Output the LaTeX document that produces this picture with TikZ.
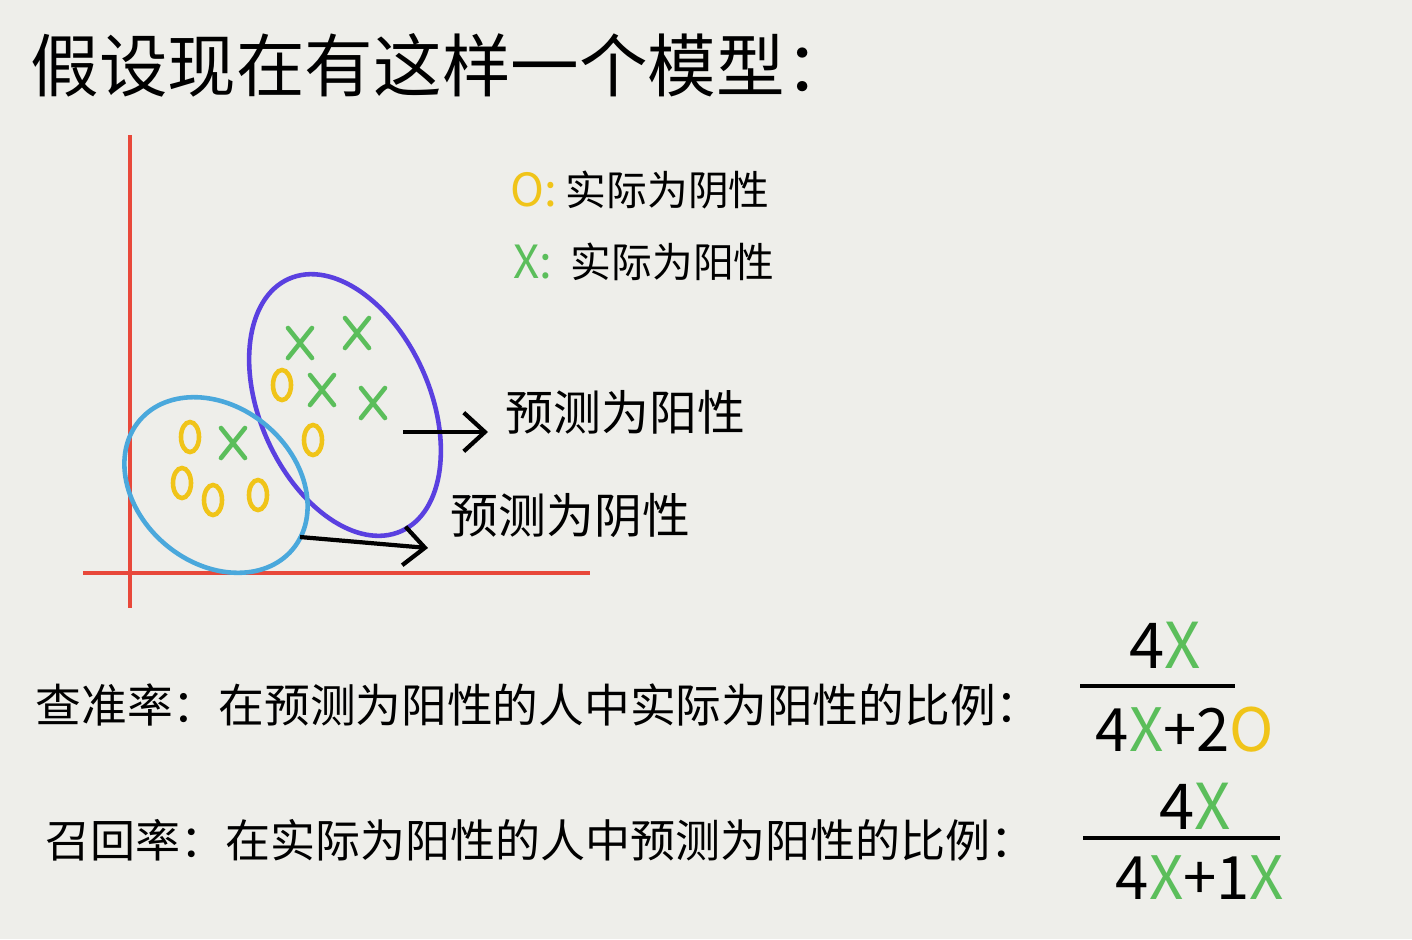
\documentclass[tikz,border=0pt]{standalone}
\usepackage{fontspec}
\setmainfont{Noto Sans CJK SC}
\usepackage{xcolor}
\usepackage{tikz}
\usetikzlibrary{arrows.meta,positioning,calc}

\definecolor{paperbg}{HTML}{EEEEEA}
\definecolor{axisred}{HTML}{E8483A}
\definecolor{ringblue}{HTML}{5A40E0}
\definecolor{ringcyan}{HTML}{4AA8DC}
\definecolor{markgreen}{HTML}{5BBE5B}
\definecolor{markyellow}{HTML}{F0C419}

\begin{document}
\begin{tikzpicture}[x=0.01cm, y=-0.01cm,
  every node/.style={inner sep=0pt},
  hand/.style={line width=1.3pt, line cap=round},
  pointer/.style={black, line width=1.2pt, -{Straight Barb[length=6pt,width=11pt]}}]

%% ── Paper (1412 x 939 px, 1px = 0.01cm) ──────────────────────────────────────
\fill[paperbg] (0,0) rectangle (1412,939);
\useasboundingbox (0,0) rectangle (1412,939);

%% ── Title ────────────────────────────────────────────────────────────────────
\node[anchor=west, font=\fontsize{19.5}{21}\selectfont] (title) at (30,65)
  {假设现在有这样一个模型：};

%% ── Axes ─────────────────────────────────────────────────────────────────────
\draw[axisred, line width=1.1pt] (130,135) -- (130,608);
\draw[axisred, line width=1.1pt] (83,573) -- (590,573);

%% ── Legend ───────────────────────────────────────────────────────────────────
\node[anchor=west, markyellow, font=\fontsize{13}{14}\selectfont] (legO) at (510,190) {O:};
\node[anchor=west, font=\fontsize{11.6}{13}\selectfont] (legOtxt) at (565,190) {实际为阴性};
\node[anchor=west, markgreen, font=\fontsize{13}{14}\selectfont] (legX) at (513,262) {X:};
\node[anchor=west, font=\fontsize{11.6}{13}\selectfont] (legXtxt) at (570,262) {实际为阳性};

%% ── Groups (predicted positive / predicted negative) ────────────────────────
\draw[ringblue, hand, rotate around={24:(345,405)}]
  (345,405) ellipse [x radius=0.85cm, y radius=1.38cm];
\draw[ringcyan, hand, rotate around={-40:(216,485)}]
  (216,485) ellipse [x radius=1.0cm, y radius=0.78cm];

%% ── Samples: X = actual positive, O = actual negative ───────────────────────
\foreach \px/\py in {300/343, 357/333, 322/390, 373/403, 233/443}{
  \draw[markgreen, hand] (\px-12,\py-15) -- (\px+12,\py+15)
                         (\px+12,\py-15) -- (\px-12,\py+15);
}
\foreach \px/\py in {282/385, 313/440, 190/437, 182/483, 213/500, 258/495}{
  \draw[markyellow, hand] (\px,\py) ellipse [x radius=0.09cm, y radius=0.15cm];
}

%% ── Arrows to labels ─────────────────────────────────────────────────────────
\coordinate (posFrom) at (403,432);
\coordinate (posTo)   at (488,432);
\coordinate (negFrom) at (300,537);
\coordinate (negTo)   at (428,548);
\node[anchor=west, font=\fontsize{13.6}{15}\selectfont] (predPos) at (505,412) {预测为阳性};
\node[anchor=west, font=\fontsize{13.6}{15}\selectfont] (predNeg) at (450,515) {预测为阴性};
\draw[pointer] (posFrom) -- (posTo);
\draw[pointer] (negFrom) -- (negTo);

%% ── Precision ────────────────────────────────────────────────────────────────
\node[anchor=west, font=\fontsize{13}{15}\selectfont] (precTxt) at (35,705)
  {查准率：在预测为阳性的人中实际为阳性的比例：};
\node[font=\fontsize{18}{20}\selectfont] (precNum) at (1165,645)
  {4\textcolor{markgreen}{X}};
\node[font=\fontsize{17}{20}\selectfont] (precDen) at (1185,730)
  {4\textcolor{markgreen}{X}+2\textcolor{markyellow}{O}};
\coordinate (precBarL) at (1080,686);
\coordinate (precBarR) at (1235,686);
\draw[black, line width=1.1pt] (precBarL) -- (precBarR);

%% ── Recall ───────────────────────────────────────────────────────────────────
\node[anchor=west, font=\fontsize{12.8}{15}\selectfont] (recTxt) at (45,840)
  {召回率：在实际为阳性的人中预测为阳性的比例：};
\node[font=\fontsize{18}{20}\selectfont] (recNum) at (1195,806)
  {4\textcolor{markgreen}{X}};
\node[font=\fontsize{17}{20}\selectfont] (recDen) at (1200,878)
  {4\textcolor{markgreen}{X}+1\textcolor{markgreen}{X}};
\coordinate (recBarL) at (1083,838);
\coordinate (recBarR) at (1280,838);
\draw[black, line width=1.1pt] (recBarL) -- (recBarR);

\end{tikzpicture}
\end{document}
